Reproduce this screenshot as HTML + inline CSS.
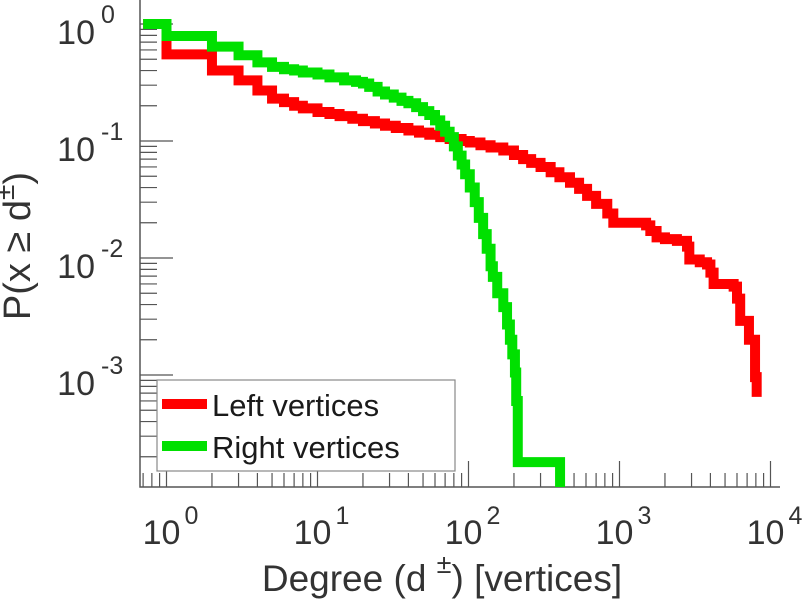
<!DOCTYPE html>
<html><head><meta charset="utf-8"><style>
html,body{margin:0;padding:0;background:#fff;}
svg{display:block;font-family:"Liberation Sans",sans-serif;}
</style></head><body>
<svg id="chart" width="803" height="600" viewBox="0 0 803 600" xmlns="http://www.w3.org/2000/svg">
<defs><clipPath id="plotclip"><rect x="140" y="0" width="640" height="487"/></clipPath></defs>
<g id="axes"></g>
<g id="series" clip-path="url(#plotclip)"></g>
<g id="legend">
  <rect x="157" y="380" width="298" height="91" fill="#fff" stroke="#888" stroke-width="1.2"/>
  <line x1="162" y1="404" x2="207" y2="404" stroke="#ff0000" stroke-width="10"/>
  <text x="212" y="416" font-size="31" fill="#1a1a1a">Left vertices</text>
  <line x1="162" y1="446" x2="207" y2="446" stroke="#00e000" stroke-width="10"/>
  <text x="212" y="458" font-size="31" fill="#1a1a1a">Right vertices</text>
</g>
<text x="442" y="591" font-size="37" fill="#333" text-anchor="middle">Degree (d <tspan dy="-18" font-size="27">  ±</tspan><tspan dy="18">) [vertices]</tspan></text>
<text transform="translate(30,246) rotate(-90)" font-size="38" fill="#333" text-anchor="middle">P(x ≥ d<tspan dy="-16" font-size="28">±</tspan><tspan dy="16">)</tspan></text>
</svg>
<script>
const xTickExps = [0, 1, 2, 3, 4];
const yTickExps = [0, -1, -2, -3];
const leftDegree = [0.7, 1, 2, 3, 4, 5, 6, 7, 8, 10, 12, 14, 17, 20, 24, 28, 33, 40, 47, 55, 65, 75, 90, 102, 120, 140, 170, 200, 230, 260, 300, 350, 400, 470, 540, 610, 700, 830, 910, 1500, 1600, 1760, 2000, 2400, 2800, 2900, 3400, 3800, 4000, 4200, 5700, 6000, 6300, 7200, 7900, 8100];
const leftProb   = [1, 0.55, 0.40, 0.33, 0.27, 0.23, 0.215, 0.20, 0.19, 0.177, 0.17, 0.163, 0.155, 0.148, 0.141, 0.135, 0.129, 0.123, 0.118, 0.113, 0.108, 0.104, 0.10, 0.097, 0.092, 0.088, 0.083, 0.076, 0.07, 0.065, 0.06, 0.054, 0.049, 0.044, 0.039, 0.034, 0.029, 0.024, 0.02, 0.019, 0.017, 0.015, 0.0145, 0.014, 0.0125, 0.0097, 0.0092, 0.0088, 0.0075, 0.006, 0.0057, 0.0045, 0.0029, 0.002, 0.00096, 0.00065];
const rightDegree = [0.7, 1, 2, 3, 4, 5, 6, 7, 8, 10, 12, 15, 18, 20, 22, 25, 28, 32, 36, 40, 45, 50, 55, 60, 65, 70, 75, 80, 85, 90, 95, 102, 110, 117, 125, 132, 140, 145, 155, 170, 180, 188, 195, 203, 207, 212, 404];
const rightProb   = [1, 0.79, 0.64, 0.54, 0.47, 0.43, 0.41, 0.40, 0.385, 0.37, 0.35, 0.33, 0.32, 0.31, 0.29, 0.265, 0.25, 0.235, 0.22, 0.21, 0.195, 0.18, 0.167, 0.15, 0.135, 0.12, 0.108, 0.09, 0.075, 0.063, 0.052, 0.04, 0.03, 0.022, 0.016, 0.012, 0.0085, 0.0069, 0.005, 0.0038, 0.0027, 0.002, 0.0015, 0.00105, 0.0006, 0.00018, 0.00005];

const NS = "http://www.w3.org/2000/svg";
const X0 = 166.5, XD = 151, Y0 = 24, YD = 117, LEFT = 140, BOTTOM = 487, RIGHT = 780;
function xPos(d){ return X0 + XD*Math.log10(d); }
function yPos(p){ return Y0 - YD*Math.log10(p); }
function mk(tag, attrs, parent){ const e=document.createElementNS(NS,tag); for(const k in attrs) e.setAttribute(k, attrs[k]); parent.appendChild(e); return e; }

const axes = document.getElementById('axes');
const axisLines = mk('path', {d:`M${LEFT} 0 V${BOTTOM} H${RIGHT}`, fill:'none', stroke:'#555', 'stroke-width':1.5}, axes);



const xmin = Math.pow(10, (LEFT - X0)/XD), xmax = Math.pow(10, (RIGHT - X0)/XD);
for (let e = -1; e <= 4; e++) {
  for (let m = 1; m <= 9; m++) {
    const v = m*Math.pow(10,e);
    if (v < xmin || v > xmax) continue;
    const x = xPos(v), len = m===1 ? 26 : 14;
    const t = mk('line', {x1:x, x2:x, y1:BOTTOM, y2:BOTTOM-len, stroke:'#555', 'stroke-width':1.2}, axes);
    
    
  }
}
xTickExps.forEach(e => {
  const x = xPos(Math.pow(10,e));
  const t = mk('text', {x:x-5, y:544, 'font-size':34, fill:'#333', 'text-anchor':'middle'}, axes);
  t.textContent = '10';
  
  
  const s = mk('text', {x:x+18, y:524, 'font-size':25, fill:'#333'}, axes);
  s.textContent = String(e);
  
  
});

const pmin = Math.pow(10, -(BOTTOM - Y0)/YD);
for (let e = -4; e <= 0; e++) {
  for (let m = 1; m <= 9; m++) {
    const v = m*Math.pow(10,e);
    if (v < pmin || v > 1.0001) continue;
    const y = yPos(v), len = m===1 ? 33 : 17;
    const t = mk('line', {x1:LEFT, x2:LEFT+len, y1:y, y2:y, stroke:'#555', 'stroke-width':1.2}, axes);
    
    
  }
}
yTickExps.forEach(e => {
  const y = yPos(Math.pow(10,e));
  const t = mk('text', {x:95, y:y+20, 'font-size':34, fill:'#333', 'text-anchor':'end'}, axes);
  t.textContent = '10';
  
  
  const s = mk('text', {x:101, y:y-1, 'font-size':25, fill:'#333'}, axes);
  s.textContent = e===0 ? '0' : '-' + Math.abs(e);
  
  
});

function stepPath(ds, ps){
  let d = `M${xPos(ds[0])} ${yPos(ps[0])}`;
  for (let i = 1; i < ds.length; i++) {
    d += ` H${xPos(ds[i])} V${yPos(ps[i])}`;
  }
  return d;
}
const series = document.getElementById('series');
const red = mk('path', {d:stepPath(leftDegree, leftProb), fill:'none', stroke:'#ff0000', 'stroke-width':10, 'stroke-linejoin':'miter'}, series);


const green = mk('path', {d:stepPath(rightDegree, rightProb), fill:'none', stroke:'#00e000', 'stroke-width':10, 'stroke-linejoin':'miter'}, series);


</script>
</body></html>
